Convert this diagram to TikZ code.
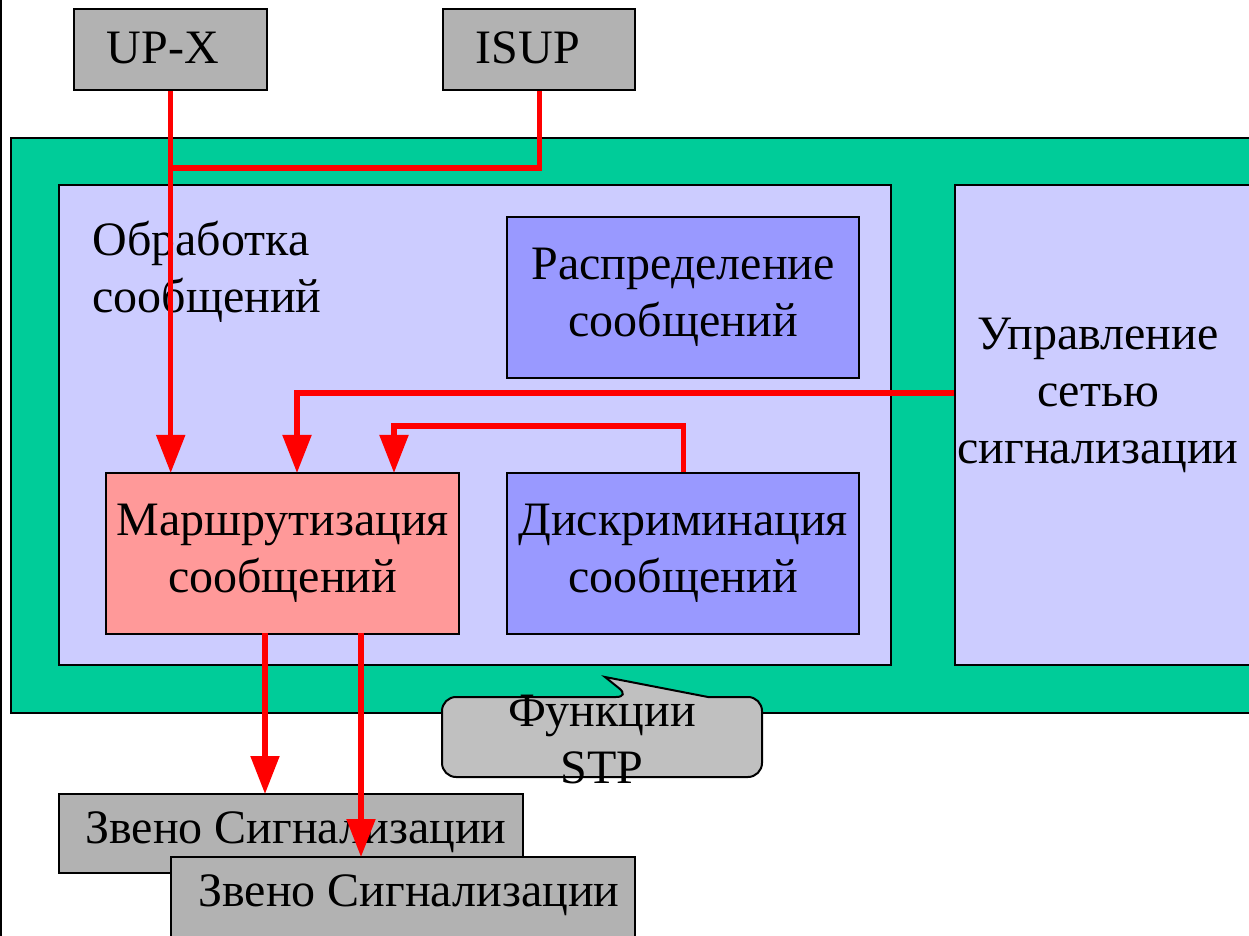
\documentclass[tikz,border=0pt]{standalone}
\usepackage{fontspec}
\setmainfont{Liberation Serif}
\usetikzlibrary{arrows.meta}
\definecolor{boxgray}{HTML}{B2B2B2}
\definecolor{calloutgray}{HTML}{C0C0C0}
\definecolor{stpgreen}{HTML}{00CC99}
\definecolor{lavender}{HTML}{CCCCFF}
\definecolor{bluebox}{HTML}{9999FF}
\definecolor{pinkbox}{HTML}{FF9999}
\definecolor{sigred}{HTML}{FF0000}
\begin{document}
\begin{tikzpicture}[x=0.5pt,y=-0.5pt,
  every node/.style={font=\fontsize{24}{28.5}\selectfont},
  box/.style={draw=black, line width=1.2pt, anchor=north west, inner sep=0pt, align=center},
  txt/.style={inner sep=0pt, align=center},
  sig/.style={draw=sigred, line width=2.6pt},
  sigarrow/.style={sig, -{Triangle[width=14pt,length=19pt]}, shorten >=-0.5pt}]
\useasboundingbox (0,0) rectangle (1249,936);
\draw[line width=1pt] (1,0) -- (1,936);

% user parts
\node[box, fill=boxgray, minimum width=96.5pt, minimum height=40.5pt] (upx) at (73,8) {};
\node[txt] (upxtext) at (163,48) {UP-X};
\node[box, fill=boxgray, minimum width=96pt, minimum height=40.5pt] (isup) at (442,8) {};
\node[txt] (isuptext) at (528,48) {ISUP};

% STP frame
\node[box, fill=stpgreen, minimum width=630pt, minimum height=287.5pt] (stp) at (10,137) {};
\node[box, fill=lavender, minimum width=416pt, minimum height=240pt] (proc) at (58,184) {};
\node[box, fill=lavender, minimum width=158pt, minimum height=240pt] (mgmt) at (954,184) {};
\node[txt] (mgmttext) at (1098,395) {Управление\\сетью\\сигнализации};
\node[txt, align=left, anchor=north west] (proctext) at (92,221) {Обработка\\сообщений};
\node[box, fill=bluebox, minimum width=176pt, minimum height=80.5pt] (distr) at (506,216) {Распределение\\сообщений};
\node[box, fill=pinkbox, minimum width=176.5pt, minimum height=80.5pt] (route) at (105,472) {Маршрутизация\\сообщений};
\node[box, fill=bluebox, minimum width=176pt, minimum height=80.5pt] (discr) at (506,472) {Дискриминация\\сообщений};

% callout
\draw[line width=1pt, fill=calloutgray]
  [rounded corners=7pt] (442,697) -- (630,697)
  [sharp corners] -- (605,677) -- (708,697)
  [rounded corners=7pt] -- (762,697) -- (762,777) -- (442,777) -- cycle;
\node[txt] (stplabel) at (602,740) {Функции\\STP};

% signalling links
\node[box, fill=boxgray, minimum width=232pt, minimum height=39.5pt] (link1) at (58,793) {};
\node[txt] (link1text) at (296,832) {Звено Сигнализации};
\node[box, fill=boxgray, minimum width=232pt, minimum height=50pt] (link2) at (170,856) {};
\node[txt] (link2text) at (409,895) {Звено Сигнализации};

% message flows
\coordinate (join) at (170,168);
\coordinate (mgmtout) at (954,393);
\coordinate (turnA) at (297,393);
\coordinate (turnB) at (394,426);
\coordinate (outA) at (265,633);
\coordinate (outB) at (361,633);
\draw[sig] (isup.south) |- (join);
\draw[sigarrow] (upx.south) -- (upx.south |- route.north);
\draw[sigarrow] (mgmtout) -- (turnA) -- (turnA |- route.north);
\draw[sigarrow] (discr.north) |- (turnB) -- (turnB |- route.north);
\draw[sigarrow] (outA) -- (outA |- link1.north);
\draw[sigarrow] (outB) -- (outB |- link2.north);
\end{tikzpicture}
\end{document}
